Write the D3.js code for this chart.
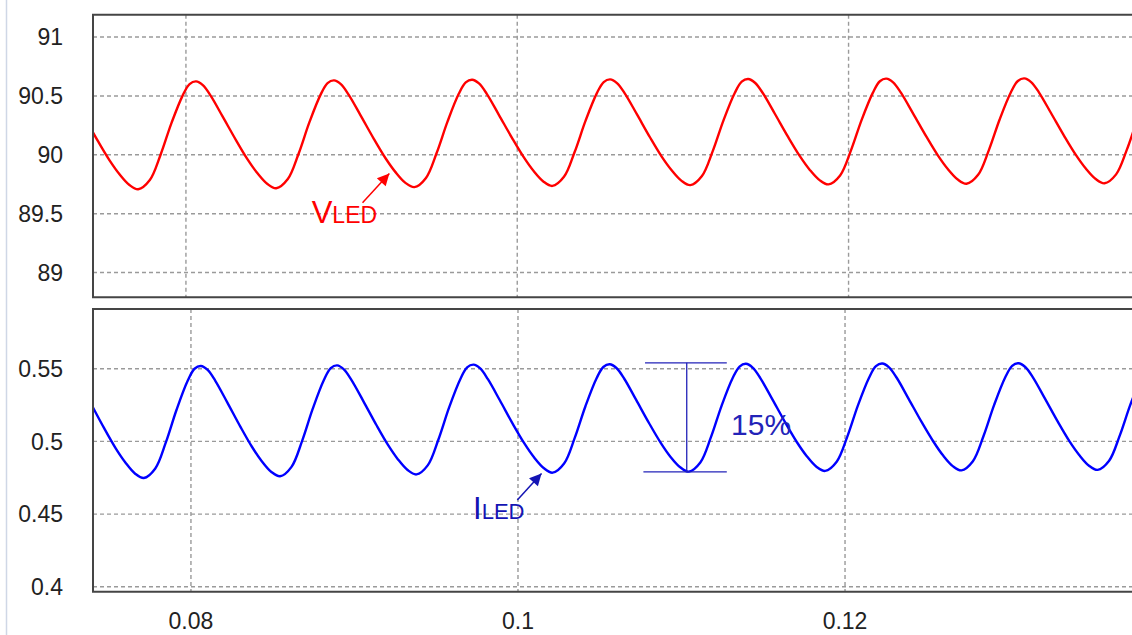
<!DOCTYPE html>
<html lang="en">
<head>
<meta charset="utf-8">
<title>VLED / ILED ripple</title>
<style>
  body { margin: 0; background: #fff; }
  text { font-family: "Liberation Sans", Arial, sans-serif; }
</style>
</head>
<body>
<script src="https://cdn.jsdelivr.net/npm/d3@7"></script>
<script>
// time samples (s), shared by both traces
var tSec = [
  0.07389, 0.07469, 0.07539, 0.07599, 0.07659,
  0.07712, 0.07782, 0.07847, 0.07912, 0.0798, 0.08022, 0.08061, 0.08102, 0.08149, 0.08222, 0.08302, 0.08372, 0.08432, 0.08492,
  0.08545, 0.08615, 0.0868, 0.08745, 0.08813, 0.08855, 0.08894, 0.08935, 0.08982, 0.09055, 0.09135, 0.09205, 0.09265, 0.09325,
  0.09379, 0.09449, 0.09514, 0.09579, 0.09647, 0.09689, 0.09728, 0.09769, 0.09816, 0.09889, 0.09969, 0.10039, 0.10099, 0.10159,
  0.10212, 0.10282, 0.10347, 0.10412, 0.1048, 0.10522, 0.10561, 0.10602, 0.10649, 0.10722, 0.10802, 0.10872, 0.10932, 0.10992,
  0.11045, 0.11115, 0.1118, 0.11245, 0.11313, 0.11355, 0.11394, 0.11435, 0.11482, 0.11555, 0.11635, 0.11705, 0.11765, 0.11825,
  0.11879, 0.11949, 0.12014, 0.12079, 0.12147, 0.12189, 0.12228, 0.12269, 0.12316, 0.12389, 0.12469, 0.12539, 0.12599, 0.12659,
  0.12712, 0.12782, 0.12847, 0.12912, 0.1298, 0.13022, 0.13061, 0.13102, 0.13149, 0.13222, 0.13302, 0.13372, 0.13432, 0.13492,
  0.13545, 0.13615, 0.1368, 0.13745, 0.13813
];
// LED voltage (V)
var vLed = [
  90.316, 90.116, 89.953, 89.835, 89.744,
  89.708, 89.786, 90.001, 90.267, 90.503, 90.601, 90.624, 90.592, 90.503, 90.324, 90.125, 89.961, 89.843, 89.752,
  89.716, 89.794, 90.009, 90.275, 90.511, 90.609, 90.632, 90.600, 90.511, 90.333, 90.134, 89.971, 89.853, 89.762,
  89.726, 89.804, 90.018, 90.282, 90.518, 90.615, 90.638, 90.606, 90.518, 90.340, 90.142, 89.980, 89.862, 89.772,
  89.736, 89.813, 90.026, 90.288, 90.522, 90.618, 90.641, 90.609, 90.522, 90.345, 90.147, 89.985, 89.869, 89.779,
  89.743, 89.820, 90.031, 90.293, 90.525, 90.621, 90.644, 90.612, 90.525, 90.349, 90.152, 89.991, 89.874, 89.785,
  89.749, 89.825, 90.036, 90.297, 90.528, 90.625, 90.647, 90.616, 90.528, 90.352, 90.156, 89.995, 89.879, 89.790,
  89.754, 89.830, 90.040, 90.300, 90.531, 90.627, 90.649, 90.618, 90.531, 90.355, 90.159, 89.999, 89.883, 89.794,
  89.758, 89.834, 90.044, 90.303, 90.533
];
// LED current (A)
var iLed = [
  0.5259, 0.5091, 0.4954, 0.4855, 0.4778,
  0.4748, 0.4814, 0.4995, 0.5218, 0.5417, 0.5500, 0.5519, 0.5492, 0.5417, 0.5269, 0.5102, 0.4965, 0.4866, 0.4790,
  0.4760, 0.4825, 0.5004, 0.5225, 0.5422, 0.5504, 0.5523, 0.5496, 0.5422, 0.5276, 0.5111, 0.4976, 0.4878, 0.4803,
  0.4773, 0.4837, 0.5015, 0.5234, 0.5428, 0.5509, 0.5528, 0.5502, 0.5428, 0.5283, 0.5119, 0.4986, 0.4889, 0.4815,
  0.4785, 0.4848, 0.5024, 0.5240, 0.5433, 0.5512, 0.5531, 0.5505, 0.5433, 0.5287, 0.5125, 0.4992, 0.4895, 0.4822,
  0.4792, 0.4855, 0.5029, 0.5245, 0.5436, 0.5515, 0.5534, 0.5508, 0.5436, 0.5291, 0.5129, 0.4996, 0.4900, 0.4826,
  0.4797, 0.4860, 0.5033, 0.5248, 0.5438, 0.5518, 0.5536, 0.5510, 0.5438, 0.5293, 0.5132, 0.5001, 0.4904, 0.4830,
  0.4801, 0.4864, 0.5037, 0.5251, 0.5441, 0.5520, 0.5538, 0.5512, 0.5441, 0.5296, 0.5134, 0.5002, 0.4907, 0.4833,
  0.4804, 0.4867, 0.5040, 0.5253, 0.5443
];

var xTicks = [0.08, 0.1, 0.12];
var xTickLabels = ["0.08", "0.1", "0.12"];
var vTicks = [89, 89.5, 90, 90.5, 91];
var vTickLabels = ["89", "89.5", "90", "90.5", "91"];
var iTicks = [0.4, 0.45, 0.5, 0.55];
var iTickLabels = ["0.4", "0.45", "0.5", "0.55"];

// ripple marker on the current trace (min / max / label)
var ripple = { tMin: 0.10777, tMax: 0.11277, tMid: 0.11032, lo: 0.4790, hi: 0.5541, label: "15%" };

var width = 1132, height = 635;
var left = 93, right = 1132;

var svg = d3.select("body").append("svg")
    .attr("width", width)
    .attr("height", height);

svg.append("line")
    .attr("x1", 6.5).attr("x2", 6.5).attr("y1", 0).attr("y2", height)
    .attr("stroke", "#cfd7e6").attr("stroke-width", 1.5);

// two stacked panels
var panels = [
  { id: "v", top: 14.7, bottom: 297.3, xDom: [0.07439, 0.13711], yDom: [88.79, 91.19],
    ticks: vTicks, labels: vTickLabels, values: vLed, color: "#ff0000" },
  { id: "i", top: 309, bottom: 591.7, xDom: [0.07401, 0.13755], yDom: [0.3966, 0.5911],
    ticks: iTicks, labels: iTickLabels, values: iLed, color: "#0000ff" }
];

panels.forEach(function(p) {
  p.x = d3.scaleLinear().domain(p.xDom).range([left, right]);
  p.y = d3.scaleLinear().domain(p.yDom).range([p.bottom, p.top]);

  svg.append("clipPath").attr("id", "clip-" + p.id)
    .append("rect")
    .attr("x", left).attr("y", p.top)
    .attr("width", right - left).attr("height", p.bottom - p.top);

  var g = svg.append("g");

  // grid
  g.selectAll(".hg").data(p.ticks).enter().append("line")
    .attr("x1", left).attr("x2", right)
    .attr("y1", function(d) { return p.y(d); })
    .attr("y2", function(d) { return p.y(d); })
    .attr("stroke", "#9a9a9a").attr("stroke-width", 1.4)
    .attr("stroke-dasharray", "4,3");
  g.selectAll(".vg").data(xTicks).enter().append("line")
    .attr("x1", function(d) { return p.x(d); })
    .attr("x2", function(d) { return p.x(d); })
    .attr("y1", p.top).attr("y2", p.bottom)
    .attr("stroke", "#9a9a9a").attr("stroke-width", 1.4)
    .attr("stroke-dasharray", "4,3");

  // y labels
  g.selectAll(".yl").data(p.ticks).enter().append("text")
    .attr("x", 63)
    .attr("y", function(d) { return p.y(d); })
    .attr("dy", "0.36em")
    .attr("text-anchor", "end")
    .attr("font-size", 23)
    .attr("fill", "#222")
    .text(function(d, i) { return p.labels[i]; });

  // trace
  var line = d3.line()
    .x(function(d, i) { return p.x(tSec[i]); })
    .y(function(d) { return p.y(d); })
    .curve(d3.curveCatmullRom.alpha(0.5));

  g.append("path")
    .datum(p.values)
    .attr("clip-path", "url(#clip-" + p.id + ")")
    .attr("fill", "none")
    .attr("stroke", p.color)
    .attr("stroke-width", 2.4)
    .attr("d", line);

  // frame (open to the right)
  g.append("path")
    .attr("d", "M" + (right + 5) + "," + p.top + "H" + left + "V" + p.bottom + "H" + (right + 5))
    .attr("fill", "none")
    .attr("stroke", "#454545")
    .attr("stroke-width", 2);
});

// x labels under the lower panel
var xb = panels[1].x;
svg.selectAll(".xl").data(xTicks).enter().append("text")
  .attr("x", function(d) { return xb(d); })
  .attr("y", 629)
  .attr("text-anchor", "middle")
  .attr("font-size", 23)
  .attr("fill", "#222")
  .text(function(d, i) { return xTickLabels[i]; });

// arrow heads
var defs = svg.append("defs");
[["arrRed", "#ff0000"], ["arrBlue", "#1414b4"]].forEach(function(a) {
  defs.append("marker")
    .attr("id", a[0])
    .attr("viewBox", "0 0 10 10")
    .attr("refX", 10).attr("refY", 5)
    .attr("markerWidth", 17).attr("markerHeight", 12)
    .attr("markerUnits", "userSpaceOnUse")
    .attr("orient", "auto")
    .append("path")
    .attr("d", "M0,0L10,5L0,10Z")
    .attr("fill", a[1]);
});

// VLED label
var pv = panels[0];
svg.append("line")
  .attr("x1", pv.x(0.09066)).attr("y1", pv.y(89.593))
  .attr("x2", pv.x(0.09228)).attr("y2", pv.y(89.842))
  .attr("stroke", "#ff0000").attr("stroke-width", 1.5)
  .attr("marker-end", "url(#arrRed)");
var vt = svg.append("text")
  .attr("x", pv.x(0.08759)).attr("y", pv.y(89.424))
  .attr("fill", "#ff0000");
vt.append("tspan").attr("font-size", 31).text("V");
vt.append("tspan").attr("font-size", 23).text("LED");

// ILED label
var pi = panels[1];
svg.append("line")
  .attr("x1", pi.x(0.09996)).attr("y1", pi.y(0.4597))
  .attr("x2", pi.x(0.10144)).attr("y2", pi.y(0.4780))
  .attr("stroke", "#1414b4").attr("stroke-width", 1.5)
  .attr("marker-end", "url(#arrBlue)");
var it = svg.append("text")
  .attr("x", pi.x(0.09725)).attr("y", pi.y(0.4469))
  .attr("fill", "#1414b4");
it.append("tspan").attr("font-size", 31).text("I");
it.append("tspan").attr("font-size", 22).text("LED");

// ripple marker
var rg = svg.append("g").attr("stroke", "#2323b8").attr("stroke-width", 1.3);
rg.append("line")
  .attr("x1", pi.x(ripple.tMin)).attr("x2", pi.x(ripple.tMax))
  .attr("y1", pi.y(ripple.hi)).attr("y2", pi.y(ripple.hi));
rg.append("line")
  .attr("x1", pi.x(ripple.tMin - 0.0001)).attr("x2", pi.x(ripple.tMax))
  .attr("y1", pi.y(ripple.lo)).attr("y2", pi.y(ripple.lo));
rg.append("line")
  .attr("x1", pi.x(ripple.tMid)).attr("x2", pi.x(ripple.tMid))
  .attr("y1", pi.y(ripple.hi)).attr("y2", pi.y(ripple.lo));
svg.append("text")
  .attr("x", pi.x(ripple.tMax + 0.00026))
  .attr("y", pi.y(0.5044))
  .attr("font-size", 30)
  .attr("fill", "#2323b8")
  .text(ripple.label);
</script>
</body>
</html>
